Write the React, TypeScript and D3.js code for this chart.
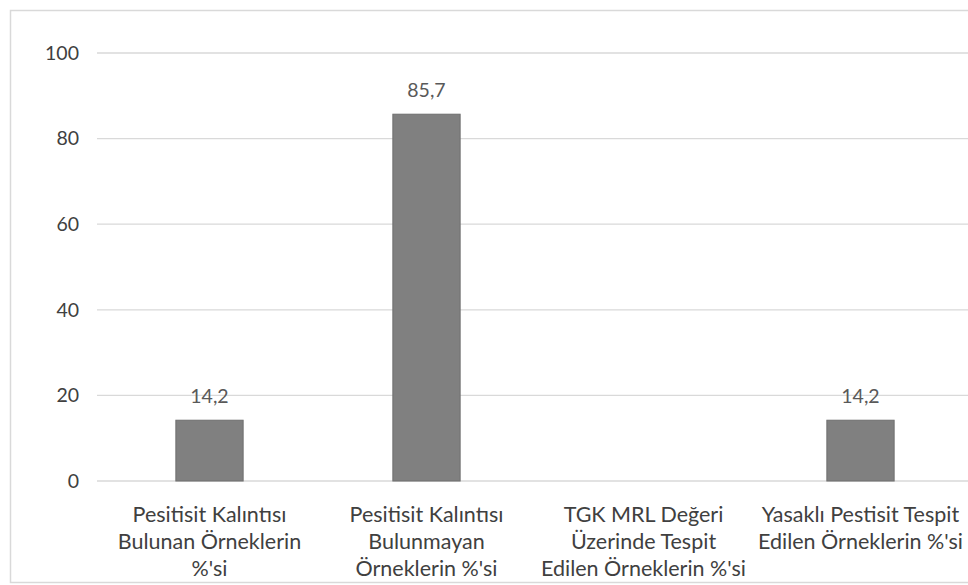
import React from "react";
import * as d3 from "d3";

const categories: string[][] = [
  ["Pesitisit Kalıntısı", "Bulunan Örneklerin", "%'si"],
  ["Pesitisit Kalıntısı", "Bulunmayan", "Örneklerin %'si"],
  ["TGK MRL Değeri", "Üzerinde Tespit", "Edilen Örneklerin %'si"],
  ["Yasaklı Pestisit Tespit", "Edilen Örneklerin %'si"],
];
const values: (number | null)[] = [14.2, 85.7, null, 14.2];
const valueLabels: string[] = ["14,2", "85,7", "", "14,2"];
const yTicks: number[] = [0, 20, 40, 60, 80, 100];

const W = 968;
const H = 585;
const FONT = "Lato, 'Open Sans', sans-serif";

export default function App() {
  const x = d3
    .scaleBand<number>()
    .domain(categories.map((_, i) => i))
    .range([101, 969])
    .paddingInner(0.69)
    .paddingOuter(0.345);
  const y = d3.scaleLinear().domain([0, 100]).range([481, 53]);

  return (
    <svg
      width={W}
      height={H}
      style={{ position: "absolute", left: 0, top: 0, background: "#fff" }}
    >
      <rect x={10.5} y={10.5} width={W + 10} height={572} fill="#fff" stroke="#d9d9d9" strokeWidth={1.5} />
      {yTicks.map((t) => (
        <g key={t}>
          <line x1={97} x2={W} y1={y(t)} y2={y(t)} stroke="#d9d9d9" strokeWidth={1.3} />
          <text
            x={79}
            y={y(t)}
            dy="0.35em"
            textAnchor="end"
            fontFamily={FONT}
            fontSize={19.5}
            fill="#404040"
          >
            {t}
          </text>
        </g>
      ))}
      {values.map((v, i) =>
        v == null ? null : (
          <g key={i}>
            <rect
              x={x(i)!}
              y={y(v)}
              width={x.bandwidth()}
              height={y(0) - y(v)}
              fill="#808080"
              stroke="#6e6e6e"
              strokeWidth={1}
            />
            <text
              x={x(i)! + x.bandwidth() / 2}
              y={y(v) - 17}
              textAnchor="middle"
              fontFamily={FONT}
              fontSize={19.5}
              fill="#595959"
            >
              {valueLabels[i]}
            </text>
          </g>
        )
      )}
      {categories.map((lines, i) => (
        <text
          key={i}
          x={x(i)! + x.bandwidth() / 2}
          textAnchor="middle"
          fontFamily={FONT}
          fontSize={21.5}
          fill="#404040"
        >
          {lines.map((l, j) => (
            <tspan key={j} x={x(i)! + x.bandwidth() / 2} y={522 + j * 27}>
              {l}
            </tspan>
          ))}
        </text>
      ))}
    </svg>
  );
}
